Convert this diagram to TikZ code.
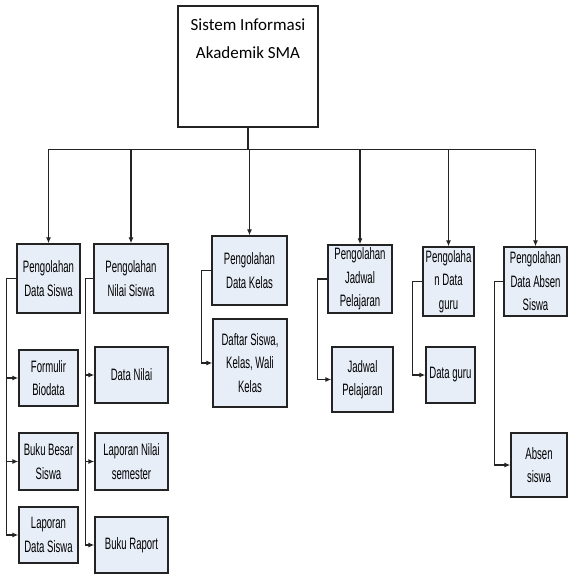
\documentclass[tikz,border=0pt]{standalone}
\usepackage{fontspec}
\usepackage{xcolor}
\usepackage{tikz}
\usetikzlibrary{arrows.meta}
\newfontfamily\boxfont[FakeStretch=0.58]{Liberation Sans}
\newfontfamily\titlefont{Carlito}
\definecolor{boxfill}{RGB}{232,238,248}
\definecolor{linegray}{RGB}{35,35,35}

\begin{document}
\begin{tikzpicture}[x=1pt, y=-1pt,
  box/.style={draw=linegray, fill=boxfill, line width=1.4pt, align=center, inner sep=0pt,
    font=\boxfont\fontsize{16.5}{23.5}\selectfont},
  link/.style={draw=linegray, line width=1.1pt},
  arr/.style={link, -{Latex[length=6pt,width=5pt]}}]
  \useasboundingbox (0,0) rectangle (569,575);

  % Top box
  \node[draw=linegray, fill=white, line width=1.4pt, minimum width=140pt, minimum height=121pt] (top) at (248,66.5) {};
  \node[align=center, font=\titlefont\fontsize{17}{28}\selectfont] (title) at (248,39) {Sistem Informasi\\Akademik SMA};

  % Second level
  \node[box, minimum width=63pt, minimum height=69pt] (p1) at (48.5,278.5) {Pengolahan\\Data Siswa};
  \node[box, minimum width=74pt, minimum height=69pt] (p2) at (131,278.5) {Pengolahan\\Nilai Siswa};
  \node[box, minimum width=75pt, minimum height=69pt] (p3) at (249.5,270.5) {Pengolahan\\Data Kelas};
  \node[box, minimum width=64pt, minimum height=68pt] (p4) at (360,279) {Pengolahan\\Jadwal\\Pelajaran};
  \node[box, minimum width=51pt, minimum height=69pt] (p5) at (448.5,281.5) {Pengolaha\\n Data\\guru};
  \node[box, minimum width=63pt, minimum height=69pt] (p6) at (535.5,281.5) {Pengolahan\\Data Absen\\Siswa};

  % Third level
  \node[box, minimum width=59pt, minimum height=56pt] (a1) at (48.5,378) {Formulir\\Biodata};
  \node[box, minimum width=59pt, minimum height=57pt] (a2) at (48.5,461.5) {Buku Besar\\Siswa};
  \node[box, minimum width=59pt, minimum height=56pt] (a3) at (48.5,535) {Laporan\\Data Siswa};
  \node[box, minimum width=73pt, minimum height=56pt] (b1) at (131.5,375) {Data Nilai};
  \node[box, minimum width=73pt, minimum height=57pt] (b2) at (131.5,461.5) {Laporan Nilai\\semester};
  \node[box, minimum width=73pt, minimum height=56pt] (b3) at (131.5,545) {Buku Raport};
  \node[box, minimum width=74pt, minimum height=88pt] (c1) at (250,363) {Daftar Siswa,\\Kelas, Wali\\Kelas};
  \node[box, minimum width=61pt, minimum height=65pt] (d1) at (362.5,379.5) {Jadwal\\Pelajaran};
  \node[box, minimum width=49pt, minimum height=56pt] (e1) at (450.5,375) {Data guru};
  \node[box, minimum width=56pt, minimum height=64pt] (f1) at (539,465) {Absen\\siswa};

  % Top connectors
  \draw[link] (top.south) -- ++(0,22) coordinate (bus);
  \foreach \n in {p1,p2,p3,p4,p5,p6}
    \draw[arr] (bus) -| (\n.north);

  % Side connectors
  \foreach \c in {a1,a2,a3}
    \draw[arr] (p1.west) -- ++(-10,0) |- (\c.west);
  \foreach \c in {b1,b2,b3}
    \draw[arr] (p2.west) -- ++(-8,0) |- (\c.west);
  \draw[arr] (p3.west) -- ++(-10,0) |- (c1.west);
  \draw[arr] (p4.west) -- ++(-10,0) |- (d1.west);
  \draw[arr] (p5.west) -- ++(-10,0) |- (e1.west);
  \draw[arr] (p6.west) -- ++(-9,0) |- (f1.west);
\end{tikzpicture}
\end{document}
